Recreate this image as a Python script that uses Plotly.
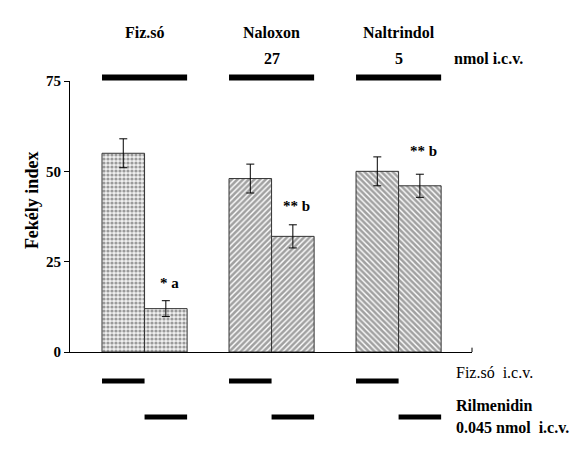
import plotly.graph_objects as go

# ---- data ----
groups = ["Fiz.só", "Naloxon", "Naltrindol"]
group_doses = ["", "27", "5"]
group_pos = [1, 2, 3]
fizso_vals = [55, 48, 50]
fizso_err = [4, 4, 4]
rilm_vals = [12, 32, 46]
rilm_err = [2.2, 3.2, 3.2]
sig_labels = ["* a", "** b", "** b"]
sig_y = [19, 40.5, 55.5]
y_ticks = [0, 25, 50, 75]

BW = 0.335
patterns = [".", "/", "\\"]
fg = ["#a0a0a0", "#000000", "#000000"]
bg = ["#f0f0f0", "#ffffff", "#ffffff"]
solid = [0.5, 0.65, 0.65]
FONT = "Times New Roman, Liberation Serif, DejaVu Serif, serif"

fig = go.Figure()
for vals, errs, off in [(fizso_vals, fizso_err, -BW / 2), (rilm_vals, rilm_err, BW / 2)]:
    fig.add_trace(go.Bar(
        x=[g + off for g in group_pos], y=vals, width=BW,
        marker=dict(color=bg, line=dict(color="#333333", width=1),
                    pattern=dict(shape=patterns, fgcolor=fg, bgcolor=bg, size=4, solidity=solid)),
        error_y=dict(type="data", array=errs, color="black", thickness=1, width=4),
        showlegend=False,
    ))

shapes = []
ann = []
for i, g in enumerate(group_pos):
    # top treatment bars
    shapes.append(dict(type="line", xref="x", yref="paper", x0=g - BW, x1=g + BW,
                       y0=1.013, y1=1.013, line=dict(color="black", width=6)))
    # bottom dashes
    shapes.append(dict(type="line", xref="x", yref="paper", x0=g - BW, x1=g,
                       y0=-0.107, y1=-0.107, line=dict(color="black", width=5)))
    shapes.append(dict(type="line", xref="x", yref="paper", x0=g, x1=g + BW,
                       y0=-0.240, y1=-0.240, line=dict(color="black", width=5)))
    ann.append(dict(x=g, y=1.218, xref="x", yref="paper", text="<b>%s</b>" % groups[i],
                    showarrow=False, font=dict(family=FONT, size=16, color="black")))
    if group_doses[i]:
        ann.append(dict(x=g, y=1.122, xref="x", yref="paper", text="<b>%s</b>" % group_doses[i],
                        showarrow=False, font=dict(family=FONT, size=16, color="black")))
    ann.append(dict(x=g + BW / 2 + 0.03, y=sig_y[i], xref="x", yref="y", text="<b>%s</b>" % sig_labels[i],
                    showarrow=False, font=dict(family=FONT, size=15, color="black")))

ann.append(dict(x=3.42, y=1.122, xref="x", yref="paper", xanchor="left", text="<b>nmol i.c.v.</b>",
                showarrow=False, font=dict(family=FONT, size=16, color="black")))
ann.append(dict(x=3.44, y=-0.114, xref="x", yref="paper", xanchor="left", text="Fiz.só  i.c.v.",
                showarrow=False, font=dict(family=FONT, size=16, color="black")))
ann.append(dict(x=3.44, y=-0.236, xref="x", yref="paper", xanchor="left", text="<b>Rilmenidin</b>",
                showarrow=False, font=dict(family=FONT, size=16, color="black")))
ann.append(dict(x=3.44, y=-0.317, xref="x", yref="paper", xanchor="left", text="<b>0.045 nmol  i.c.v.</b>",
                showarrow=False, font=dict(family=FONT, size=16, color="black")))
ann.append(dict(x=-0.124, y=0.561, xref="paper", yref="paper", text="<b>Fekély index</b>", textangle=-90,
                showarrow=False, font=dict(family=FONT, size=18, color="black")))

# small end tick on the x axis
shapes.append(dict(type="line", xref="paper", yref="y", x0=1, x1=1, y0=0, y1=1.2,
                   line=dict(color="black", width=1)))

fig.update_layout(
    width=570, height=447,
    margin=dict(l=62, r=106, t=73, b=103),
    plot_bgcolor="white", paper_bgcolor="white",
    barmode="overlay",
    shapes=shapes, annotations=ann,
    font=dict(family=FONT, color="black"),
)
fig.update_xaxes(range=[0.413, 3.578], showline=True, linecolor="black", linewidth=1,
                 showticklabels=False, ticks="", showgrid=False, zeroline=False)
fig.update_yaxes(range=[0, 75], tickvals=y_ticks, ticktext=["<b>%d</b>" % t for t in y_ticks],
                 showline=True, linecolor="black", linewidth=1, ticks="outside", ticklen=5,
                 tickcolor="black", showgrid=False, zeroline=False,
                 tickfont=dict(family=FONT, size=15, color="black"))

fig.write_html("out.html")
